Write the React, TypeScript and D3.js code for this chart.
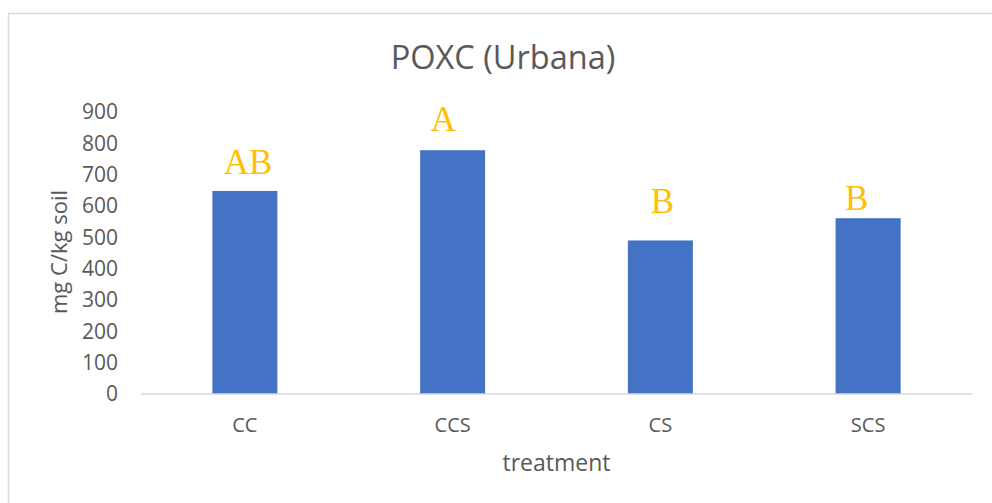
import React from 'react';
import * as d3 from 'd3';

const treatments = ['CC', 'CCS', 'CS', 'SCS'];
const poxc = [648, 778, 490, 561];
const letters = ['AB', 'A', 'B', 'B'];
// where the letter text boxes sit, in data units (baseline) and band fraction
const letterLevel = [702, 839, 578, 587];
const letterShift = [0.015, -0.045, 0.01, -0.055];
const yTicks = [0, 100, 200, 300, 400, 500, 600, 700, 800, 900];

const W = 992;
const H = 503;
const plot = { left: 141, right: 972, top: 112, bottom: 394 };
const sans = '"Open Sans", "Segoe UI", sans-serif';

export default function App() {
  const x = d3.scaleBand<string>()
    .domain(treatments)
    .range([plot.left, plot.right])
    .paddingInner(0.687)
    .paddingOuter(0.3435);
  const y = d3.scaleLinear().domain([0, 900]).range([plot.bottom, plot.top]);
  const step = x.step();

  return (
    <svg width={W} height={H} style={{ position: 'absolute', left: 0, top: 0, background: '#fff' }}>
      <rect x={8.5} y={13.5} width={W + 10} height={H + 10} fill="#fff" stroke="#d9d9d9" strokeWidth={1.5} />
      <text x={503} y={69} textAnchor="middle" fontFamily={sans} fontSize={32.5} fill="#595959">
        POXC (Urbana)
      </text>

      {yTicks.map(t => (
        <text key={t} x={118} y={y(t)} dy="0.35em" textAnchor="end" fontFamily={sans} fontSize={21} fill="#595959">
          {t}
        </text>
      ))}

      {treatments.map((c, i) => (
        <rect key={c} x={x(c)} y={y(poxc[i])} width={x.bandwidth()} height={y(0) - y(poxc[i])} fill="#4472c4" />
      ))}

      <line x1={plot.left} x2={plot.right} y1={y(0)} y2={y(0)} stroke="#d9d9d9" strokeWidth={1.5} />

      {treatments.map(c => (
        <text key={c} x={(x(c) as number) + x.bandwidth() / 2} y={432} textAnchor="middle" fontFamily={sans} fontSize={20} fill="#595959">
          {c}
        </text>
      ))}

      {treatments.map((c, i) => (
        <text
          key={'l' + c}
          x={(x(c) as number) + x.bandwidth() / 2 + letterShift[i] * step}
          y={y(letterLevel[i])}
          textAnchor="middle"
          fontFamily='"Liberation Serif", "Times New Roman", serif'
          fontSize={35}
          fill="#ffc000"
        >
          {letters[i]}
        </text>
      ))}

      <text x={(plot.left + plot.right) / 2} y={471} textAnchor="middle" fontFamily={sans} fontSize={23} fill="#595959">
        treatment
      </text>
      <text
        transform={`translate(67, ${252}) rotate(-90)`}
        textAnchor="middle"
        fontFamily={sans}
        fontSize={22}
        fill="#595959"
      >
        mg C/kg soil
      </text>
    </svg>
  );
}
